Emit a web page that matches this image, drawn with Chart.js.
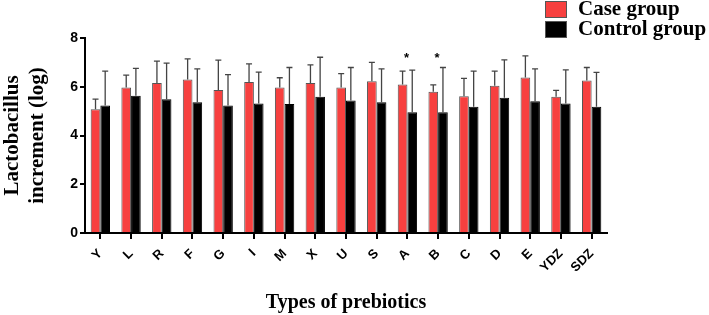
<!DOCTYPE html>
<html>
<head>
<meta charset="utf-8">
<script src="https://cdn.jsdelivr.net/npm/chart.js@4"></script>
<style>
  html, body { margin: 0; padding: 0; background: #fff; }
  #wrap { width: 709px; height: 315px; }
</style>
</head>
<body>
<div id="wrap"><canvas id="myChart" width="709" height="315"></canvas></div>
<script>
const categories = ['Y', 'L', 'R', 'F', 'G', 'I', 'M', 'X', 'U', 'S', 'A', 'B', 'C', 'D', 'E', 'YDZ', 'SDZ'];

const caseMean = [5.08, 5.97, 6.15, 6.30, 5.87, 6.20, 5.97, 6.15, 5.97, 6.23, 6.09, 5.79, 5.61, 6.04, 6.38, 5.59, 6.26];
const caseSD = [0.41, 0.51, 0.90, 0.84, 1.22, 0.74, 0.40, 0.75, 0.57, 0.77, 0.55, 0.29, 0.73, 0.60, 0.89, 0.26, 0.53];

const controlMean = [5.23, 5.63, 5.49, 5.36, 5.23, 5.31, 5.29, 5.59, 5.44, 5.36, 4.95, 4.95, 5.18, 5.55, 5.41, 5.31, 5.18];
const controlSD = [1.41, 1.12, 1.48, 1.37, 1.27, 1.29, 1.50, 1.62, 1.35, 1.37, 1.73, 1.84, 1.46, 1.55, 1.32, 1.38, 1.41];

const signif = ['', '', '', '', '', '', '', '', '', '', '*', '*', '', '', '', '', ''];
const starLevel = 7.3;

const yTicks = [0, 2, 4, 6, 8];

const RED = '#F7403F';
const serif = "'Liberation Serif', 'Times New Roman', serif";
const sans = "'Liberation Sans', Arial, sans-serif";

const caseGroup = {
    label: 'Case group',
    data: caseMean,
    sd: caseSD,
    backgroundColor: RED,
    borderColor: '#555',
    borderWidth: 1
};

const controlGroup = {
    label: 'Control group',
    data: controlMean,
    sd: controlSD,
    backgroundColor: '#000',
    borderColor: '#000',
    borderWidth: 1
};

// upper error bars, stars and the legend box
const extras = {
    id: 'extras',
    afterDatasetsDraw(chart) {
        const ctx = chart.ctx;
        const y = chart.scales.y;
        const x = chart.scales.x;
        ctx.save();
        chart.data.datasets.forEach((ds, i) => {
            const meta = chart.getDatasetMeta(i);
            meta.data.forEach((bar, j) => {
                const top = y.getPixelForValue(ds.data[j] + ds.sd[j]);
                ctx.strokeStyle = '#444';
                ctx.lineWidth = 1.3;
                ctx.beginPath();
                ctx.moveTo(bar.x, bar.y);
                ctx.lineTo(bar.x, top);
                ctx.moveTo(bar.x - 3, top);
                ctx.lineTo(bar.x + 3, top);
                ctx.stroke();
            });
        });
        ctx.fillStyle = '#000';
        ctx.font = 'bold 13px ' + sans;
        ctx.textAlign = 'center';
        ctx.textBaseline = 'middle';
        signif.forEach((s, j) => {
            if (s) ctx.fillText(s, x.getPixelForValue(j) - 1, y.getPixelForValue(starLevel) + 3);
        });

        // legend
        ctx.textAlign = 'left';
        ctx.font = 'bold 21px ' + serif;
        chart.data.datasets.forEach((ds, i) => {
            const ty = 1 + i * 20;
            ctx.fillStyle = ds.backgroundColor;
            ctx.fillRect(545, ty, 22, 17);
            ctx.strokeStyle = '#555';
            ctx.lineWidth = 1;
            ctx.strokeRect(545.5, ty + 0.5, 21, 16);
            ctx.fillStyle = '#000';
            ctx.fillText(ds.label, 578, ty + 9);
        });
        ctx.restore();
    }
};

const config = {
    type: 'bar',
    data: { labels: categories, datasets: [caseGroup, controlGroup] },
    options: {
        responsive: false,
        animation: false,
        layout: { padding: { top: 38, right: 102, left: 0, bottom: 0 } },
        datasets: { bar: { categoryPercentage: 0.63, barPercentage: 1 } },
        plugins: { legend: { display: false }, tooltip: { enabled: false } },
        scales: {
            x: {
                grid: { drawOnChartArea: false, offset: false, tickLength: 6, color: '#000', lineWidth: 2 },
                border: { color: '#000', width: 2 },
                ticks: {
                    autoSkip: false, maxRotation: 45, minRotation: 45, padding: 7,
                    color: '#000', font: { family: sans, weight: 'bold', size: 13 }
                },
                title: {
                    display: true, text: 'Types of prebiotics', color: '#000',
                    font: { family: serif, weight: 'bold', size: 20 }, padding: { top: 0, bottom: 0 }
                },
                afterFit(axis) { axis.height = 82; }
            },
            y: {
                min: 0, max: 8,
                afterBuildTicks(axis) { axis.ticks = yTicks.map(v => ({ value: v })); },
                grid: { drawOnChartArea: false, tickLength: 5, color: '#000', lineWidth: 2 },
                border: { color: '#000', width: 2 },
                ticks: {
                    padding: 2, color: '#000',
                    font: { family: sans, weight: 'bold', size: 14 }
                },
                title: {
                    display: true, text: ['Lactobacillus', 'increment (log)'], color: '#000',
                    font: { family: serif, weight: 'bold', size: 21, lineHeight: 1.2 }, padding: 0
                },
                afterFit(axis) { axis.width = 85; }
            }
        }
    },
    plugins: [extras]
};

const myChart = new Chart(document.getElementById('myChart'), config);
</script>
</body>
</html>
